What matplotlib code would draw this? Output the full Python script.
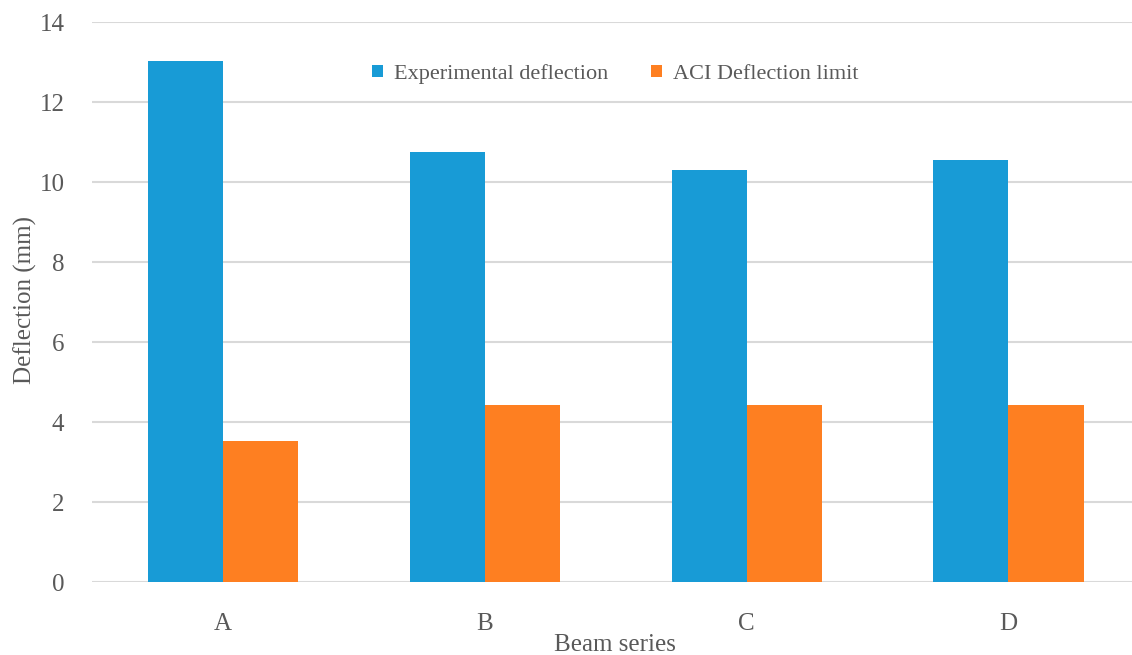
import matplotlib.pyplot as plt
import numpy as np

series = ["A", "B", "C", "D"]
experimental = [13.02, 10.76, 10.31, 10.56]
aci_limit = [3.52, 4.42, 4.42, 4.42]

plt.rcParams["font.family"] = ["Liberation Serif", "DejaVu Serif"]
grey = "#595959"

fig = plt.figure(figsize=(11.32, 6.55), dpi=100)
ax = fig.add_axes([0.0815, 0.111, 0.925, 0.855])

x = np.arange(len(series))
w = 0.287
ax.bar(x - w / 2, experimental, w, color="#189BD6", label="Experimental deflection", zorder=3)
ax.bar(x + w / 2, aci_limit, w, color="#FE7F21", label="ACI Deflection limit", zorder=3)

ax.set_xlim(-0.5, 3.5)
ax.set_ylim(0, 14)
ax.set_yticks(range(0, 15, 2))
ax.set_xticks(x)
ax.set_xticklabels(series)
ax.yaxis.grid(True, color="#d9d9d9", linewidth=1.5, zorder=0)
for s in ax.spines.values():
    s.set_visible(False)
ax.tick_params(length=0, labelsize=18, labelcolor=grey)
ax.tick_params(axis="y", pad=20)
ax.tick_params(axis="x", pad=22)

ax.set_ylabel("Deflection (mm)", fontsize=18, color=grey)
ax.set_xlabel("Beam series", fontsize=18, color=grey)
ax.yaxis.set_label_coords(-0.053, 0.504)
ax.xaxis.set_label_coords(0.4993, -0.093)

ax.legend(loc="center", bbox_to_anchor=(0.4993, 0.908), ncol=2, frameon=False,
          fontsize=16, labelcolor=grey, handlelength=0.5, handleheight=0.5,
          handletextpad=0.5, columnspacing=1.9)

fig.savefig("out.png", dpi=100)
